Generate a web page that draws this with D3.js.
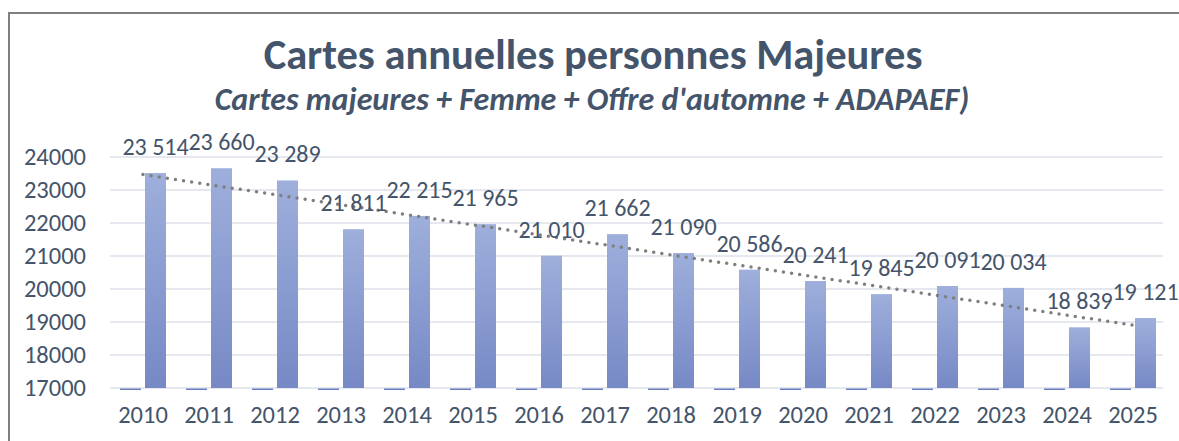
<!DOCTYPE html>
<html>
<head>
<meta charset="utf-8">
<script src="https://cdn.jsdelivr.net/npm/d3@7"></script>
<style>
  body { margin: 0; background: #fff; }
  svg { display: block; font-family: Carlito, Lato, "Liberation Sans", sans-serif; }
</style>
</head>
<body>
<svg width="1179" height="441"></svg>
<script>
var annees = ["2010", "2011", "2012", "2013", "2014", "2015", "2016", "2017",
              "2018", "2019", "2020", "2021", "2022", "2023", "2024", "2025"];
var cartes = [23514, 23660, 23289, 21811, 22215, 21965, 21010, 21662,
              21090, 20586, 20241, 19845, 20091, 20034, 18839, 19121];
// second series, below the axis minimum, shows as a thin dash
var autres = [0, 0, 0, 0, 0, 0, 0, 0, 0, 0, 0, 0, 0, 0, 0, 0];
var yTicks = [17000, 18000, 19000, 20000, 21000, 22000, 23000, 24000];

var titre = "Cartes annuelles personnes Majeures";
var sousTitre = "Cartes majeures + Femme + Offre d'automne + ADAPAEF)";

var svg = d3.select("svg"),
    textColor = "#44546a";

var fr = d3.formatLocale({decimal: ",", thousands: " ", grouping: [3], currency: ["", " €"]});
var fmt = fr.format(",d");

var x = d3.scaleBand().domain(annees).range([110, 1166]).padding(0);
var x1 = d3.scaleBand().domain(["autres", "cartes"]).range([0, x.bandwidth()])
    .paddingInner(0.16).paddingOuter(0.4);
var y = d3.scaleLinear().domain([17000, 24000]).range([388, 157]);

// chart frame
svg.append("path")
    .attr("d", "M9,441V13H1179")
    .attr("fill", "none")
    .attr("stroke", "#7f7f7f")
    .attr("stroke-width", 2);

var defs = svg.append("defs");
var grad = defs.append("linearGradient")
    .attr("id", "barGrad")
    .attr("x1", 0).attr("y1", 0).attr("x2", 0).attr("y2", 1);
grad.append("stop").attr("offset", "0%").attr("stop-color", "#9eafdc");
grad.append("stop").attr("offset", "100%").attr("stop-color", "#7789c5");

// titles
svg.append("text")
    .attr("x", 593).attr("y", 69)
    .attr("text-anchor", "middle")
    .attr("fill", textColor)
    .style("font-size", "42.5px")
    .style("font-weight", "bold")
    .text(titre);

svg.append("text")
    .attr("x", 592).attr("y", 110)
    .attr("text-anchor", "middle")
    .attr("fill", textColor)
    .style("font-size", "32px")
    .style("font-weight", "bold")
    .style("font-style", "italic")
    .text(sousTitre);

// gridlines
svg.append("g")
    .selectAll("line")
    .data(yTicks)
    .enter().append("line")
      .attr("x1", x.range()[0])
      .attr("x2", x.range()[1] - 3)
      .attr("y1", function(d) { return y(d); })
      .attr("y2", function(d) { return y(d); })
      .attr("stroke", "#dde1e8")
      .attr("stroke-width", 1.5);

// y axis labels
var yAxis = svg.append("g")
    .attr("transform", "translate(" + x.range()[0] + ",0)")
    .call(d3.axisLeft(y).tickValues(yTicks).tickFormat(d3.format("d")).tickSize(0).tickPadding(24));
yAxis.select(".domain").remove();
yAxis.attr("font-family", null).attr("font-size", null);
yAxis.selectAll("text")
    .attr("fill", textColor)
    .style("font-size", "24.5px");

// x axis labels
var xAxis = svg.append("g")
    .attr("transform", "translate(0," + y(17000) + ")")
    .call(d3.axisBottom(x).tickSize(0).tickPadding(18));
xAxis.select(".domain").remove();
xAxis.attr("font-family", null).attr("font-size", null);
xAxis.selectAll("text")
    .attr("fill", textColor)
    .style("font-size", "24.5px");

// dashes for second series
svg.append("g")
    .selectAll("rect")
    .data(autres)
    .enter().append("rect")
      .attr("x", function(d, i) { return x(annees[i]) + x1("autres"); })
      .attr("y", function(d) { return y(Math.max(d, 17000)) + 0.5; })
      .attr("width", x1.bandwidth())
      .attr("height", 1.5)
      .attr("fill", "#6a7dbf");

// bars
svg.append("g")
    .selectAll("rect")
    .data(cartes)
    .enter().append("rect")
      .attr("x", function(d, i) { return x(annees[i]) + x1("cartes"); })
      .attr("y", function(d) { return y(d); })
      .attr("width", x1.bandwidth())
      .attr("height", function(d) { return y(17000) - y(d); })
      .attr("fill", "url(#barGrad)");

// linear trend line
var n = cartes.length,
    mx = d3.mean(cartes, function(d, i) { return i; }),
    my = d3.mean(cartes),
    slope = d3.sum(cartes, function(d, i) { return (i - mx) * (d - my); }) /
            d3.sum(cartes, function(d, i) { return (i - mx) * (i - mx); }),
    inter = my - slope * mx;

var trend = [0, n - 1].map(function(i) {
  return [x(annees[i]) + x.bandwidth() / 2, y(inter + slope * i)];
});

svg.append("path")
    .attr("d", d3.line()(trend))
    .attr("fill", "none")
    .attr("stroke", "#7f7f7f")
    .attr("stroke-width", 3.5)
    .attr("stroke-linecap", "round")
    .attr("stroke-dasharray", "0,8.2");

// data labels
svg.append("g")
    .selectAll("text")
    .data(cartes)
    .enter().append("text")
      .attr("x", function(d, i) { return x(annees[i]) + x1("cartes") + x1.bandwidth() / 2; })
      .attr("y", function(d) { return y(d) - 18; })
      .attr("text-anchor", "middle")
      .attr("fill", textColor)
      .style("font-size", "24px")
      .text(function(d) { return fmt(d); });
</script>
</body>
</html>
